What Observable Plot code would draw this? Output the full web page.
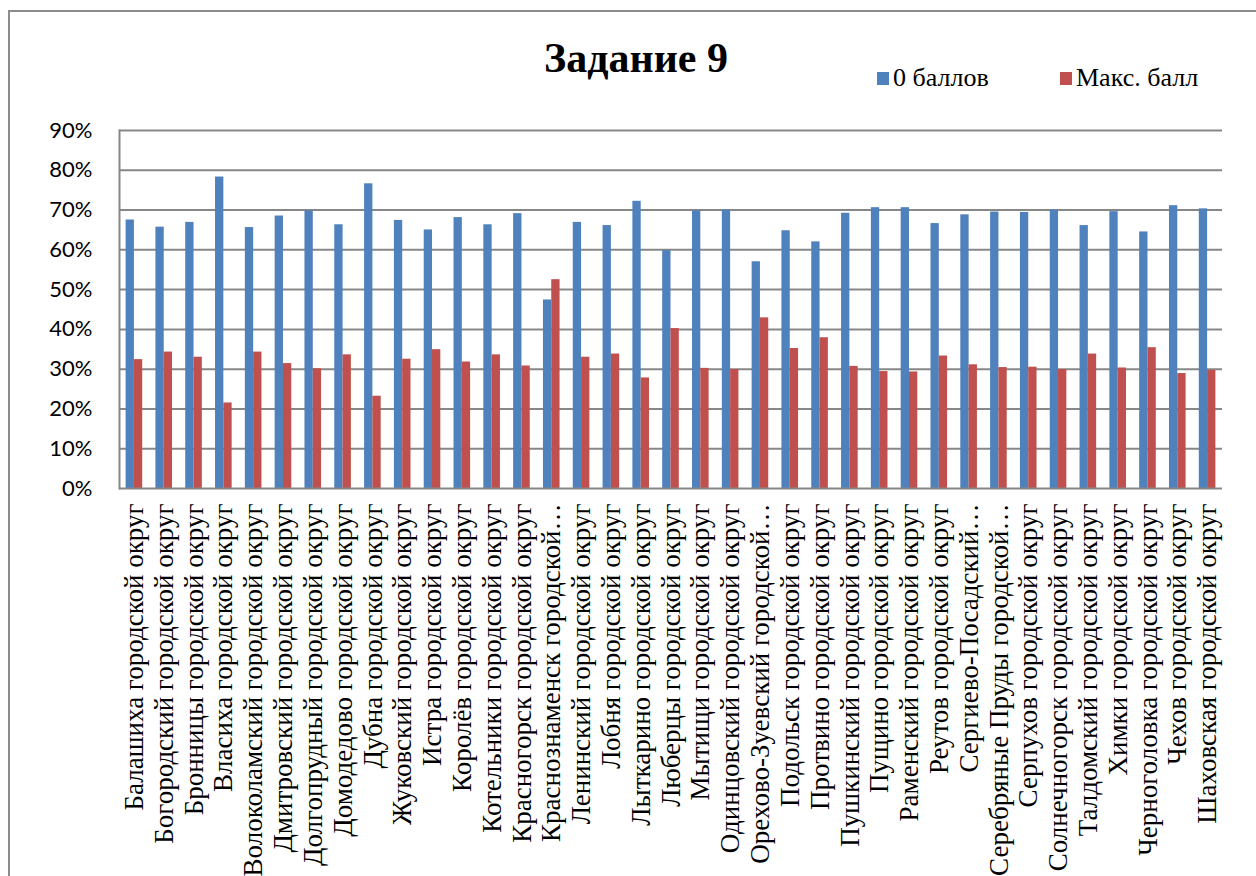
<!DOCTYPE html>
<html><head><meta charset="utf-8">
<script src="https://cdn.jsdelivr.net/npm/d3@7"></script>
<script src="https://cdn.jsdelivr.net/npm/@observablehq/plot@0.6"></script>
<style>
body{margin:0;background:#fff;}
#wrap{position:relative;width:1256px;height:876px;overflow:hidden;background:#fff;}
#border{position:absolute;left:8px;top:10px;width:1300px;height:1000px;border:2px solid #8c8c8c;box-sizing:border-box;}
#title{position:absolute;left:436px;width:400px;top:37px;line-height:1;text-align:center;font-family:"Liberation Serif",serif;font-weight:bold;font-size:42px;color:#000;white-space:nowrap;}
.leg{position:absolute;top:65px;line-height:1;font-family:"Liberation Serif",serif;font-size:26px;color:#000;white-space:nowrap;display:flex;align-items:center;}
.sw{display:inline-block;width:12px;height:13px;margin-right:4px;}
#chart{position:absolute;left:0;top:110px;}
</style>
</head><body>
<div id="wrap">
  <div id="border"></div>
  <div id="title"></div>
  <div id="legend"></div>
  <div id="chart"></div>
</div>
<script>
const title = "Задание 9";
const categories = [
  "Балашиха городской округ","Богородский городской округ","Бронницы городской округ","Власиха городской округ",
  "Волоколамский городской округ","Дмитровский городской округ","Долгопрудный городской округ","Домодедово городской округ",
  "Дубна городской округ","Жуковский городской округ","Истра городской округ","Королёв городской округ",
  "Котельники городской округ","Красногорск городской округ","Краснознаменск городской округ","Ленинский городской округ",
  "Лобня городской округ","Лыткарино городской округ","Люберцы городской округ","Мытищи городской округ",
  "Одинцовский городской округ","Орехово-Зуевский городской округ","Подольск городской округ","Протвино городской округ",
  "Пушкинский городской округ","Пущино городской округ","Раменский городской округ","Реутов городской округ",
  "Сергиево-Посадский городской округ","Серебряные Пруды городской округ","Серпухов городской округ","Солнечногорск городской округ",
  "Талдомский городской округ","Химки городской округ","Черноголовка городской округ","Чехов городской округ",
  "Шаховская городской округ"
];
const tickLabels = [
  "Балашиха городской округ","Богородский городской округ","Бронницы городской округ","Власиха городской округ",
  "Волоколамский городской округ","Дмитровский городской округ","Долгопрудный городской округ","Домодедово городской округ",
  "Дубна городской округ","Жуковский городской округ","Истра городской округ","Королёв городской округ",
  "Котельники городской округ","Красногорск городской округ","Краснознаменск городской…","Ленинский городской округ",
  "Лобня городской округ","Лыткарино городской округ","Люберцы городской округ","Мытищи городской округ",
  "Одинцовский городской округ","Орехово-Зуевский городской…","Подольск городской округ","Протвино городской округ",
  "Пушкинский городской округ","Пущино городской округ","Раменский городской округ","Реутов городской округ",
  "Сергиево-Посадский…","Серебряные Пруды городской…","Серпухов городской округ","Солнечногорск городской округ",
  "Талдомский городской округ","Химки городской округ","Черноголовка городской округ","Чехов городской округ",
  "Шаховская городской округ"
];
const zeroScore = [67.5,65.7,66.9,78.3,65.6,68.5,69.8,66.3,76.6,67.4,65.0,68.1,66.3,69.1,47.4,66.9,66.1,72.2,59.8,69.8,70.0,57.0,64.8,62.0,69.2,70.6,70.6,66.6,68.8,69.5,69.4,70.0,66.1,69.6,64.5,71.1,70.3];
const maxScore  = [32.4,34.3,33.0,21.5,34.3,31.4,30.1,33.6,23.2,32.5,34.9,31.8,33.6,30.8,52.5,33.0,33.8,27.8,40.2,30.2,29.9,42.9,35.2,37.9,30.7,29.4,29.3,33.3,31.1,30.4,30.5,29.9,33.8,30.3,35.4,28.9,29.7];
const seriesNames = ["0 баллов","Макс. балл"];
const seriesColors = ["#4F81BD","#C0504D"];
const yTicks = [0,10,20,30,40,50,60,70,80,90];

document.getElementById("title").textContent = title;
const legend = document.getElementById("legend");
const legLeft = [877, 1060];
seriesNames.forEach((n,i)=>{
  const d = document.createElement("div");
  d.className = "leg";
  d.style.left = legLeft[i] + "px";
  const s = document.createElement("span");
  s.className = "sw"; s.style.background = seriesColors[i];
  d.appendChild(s);
  d.appendChild(document.createTextNode(n));
  legend.appendChild(d);
});

const rows0 = categories.map((c,i)=>({category:c, value:zeroScore[i]}));
const rows1 = categories.map((c,i)=>({category:c, value:maxScore[i]}));

const plot = Plot.plot({
  width:1256, height:766,
  marginTop:20, marginBottom:388, marginLeft:119, marginRight:34,
  style:{background:"transparent", overflow:"visible"},
  x:{domain:categories, padding:0, round:false, label:null},
  y:{domain:[0,90], label:null},
  marks:[
    Plot.ruleY(yTicks.slice(1), {stroke:"#878787", strokeWidth:2, strokeOpacity:1}),
    Plot.barY(rows0, {x:"category", y:"value", fill:seriesColors[0], insetLeft:10.75, insetRight:10.75, dx:-4.15}),
    Plot.barY(rows1, {x:"category", y:"value", fill:seriesColors[1], insetLeft:10.75, insetRight:10.75, dx:4.15}),
    Plot.ruleY([0], {stroke:"#878787", strokeWidth:2, strokeOpacity:1}),
    Plot.frame({anchor:"left", stroke:"#878787", strokeWidth:2, strokeOpacity:1}),
    Plot.axisY({ticks:yTicks, tickSize:0, tickPadding:27, tickFormat:d=>d+"%", fontSize:22, fontFamily:"Lato", fill:"#000", label:null}),
    Plot.axisX({tickSize:0, tickPadding:15, tickRotate:-90, tickFormat:d=>tickLabels[categories.indexOf(d)], fontSize:27, fontFamily:"Liberation Serif", fill:"#000", label:null})
  ]
});
document.getElementById("chart").appendChild(plot);
</script>
</body></html>
